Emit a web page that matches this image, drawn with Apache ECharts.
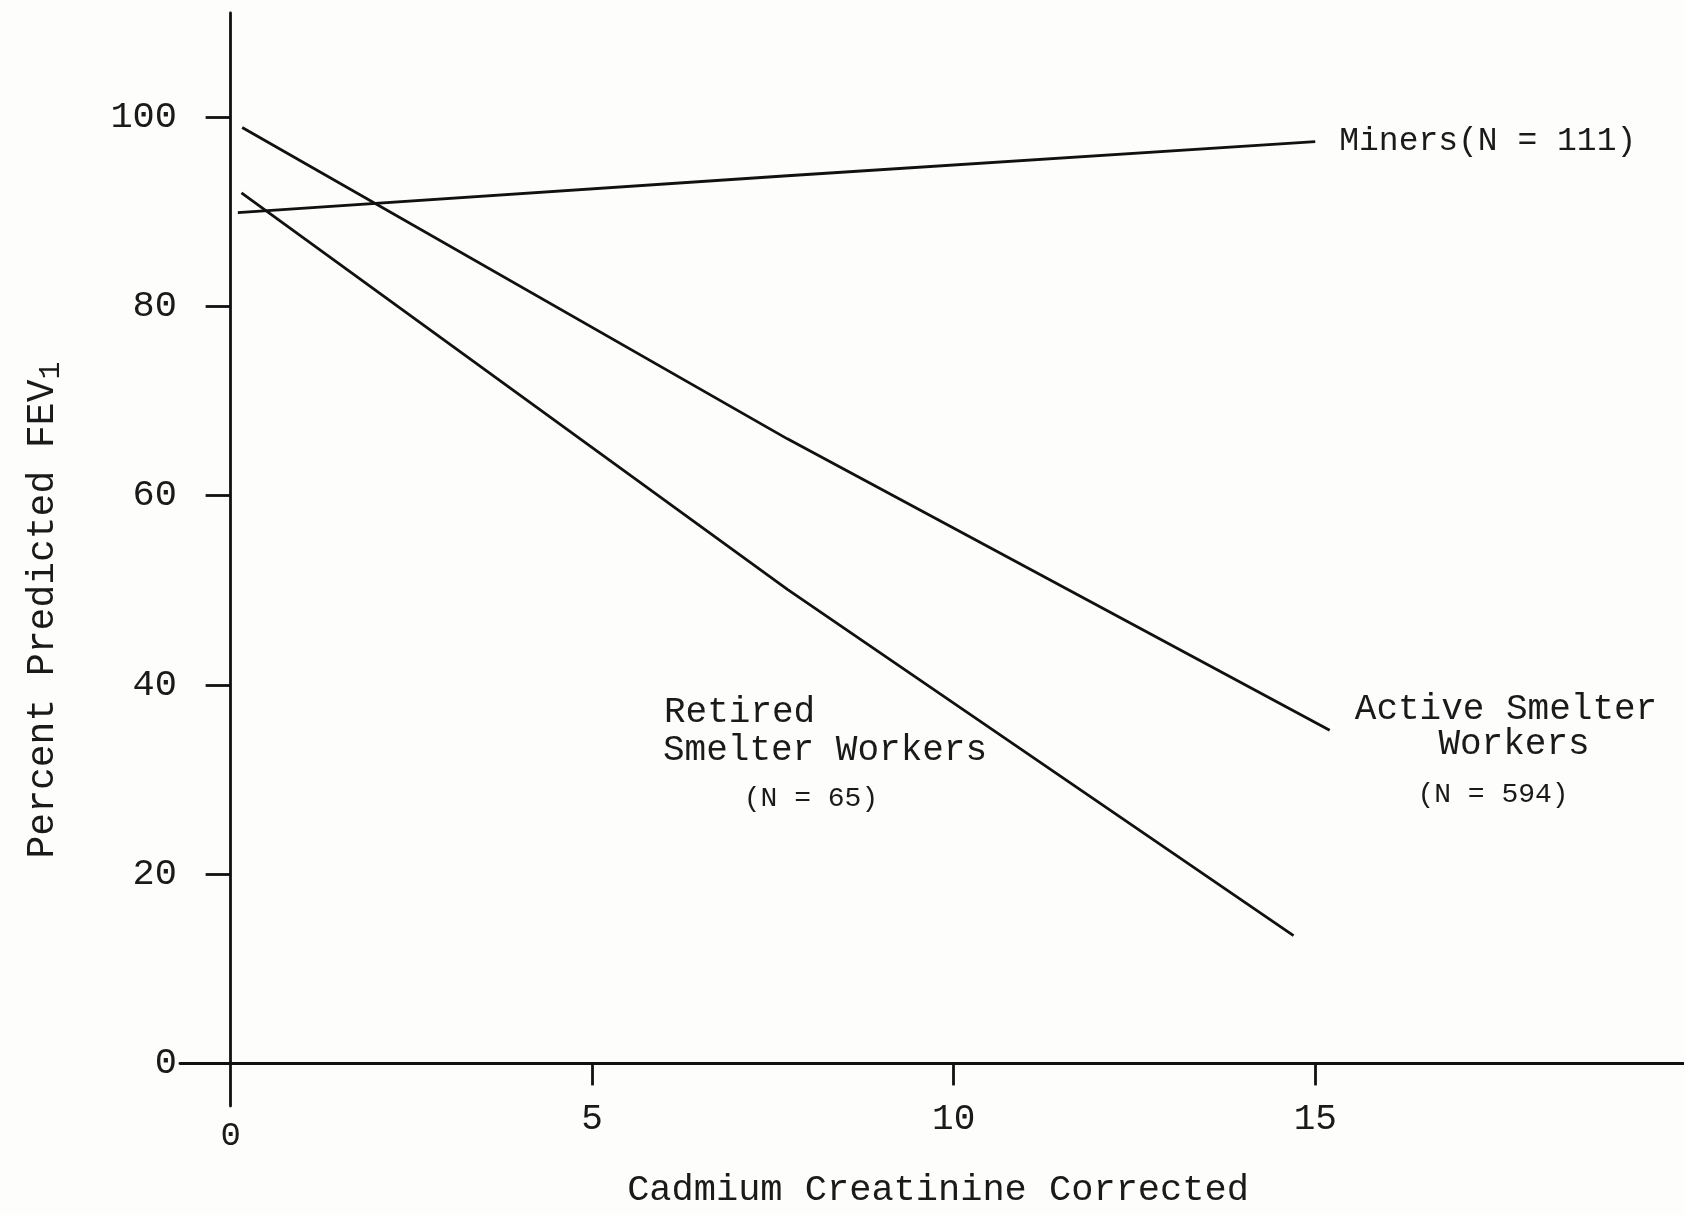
<!DOCTYPE html>
<html>
<head>
<meta charset="utf-8">
<script src="https://cdn.jsdelivr.net/npm/echarts@6/dist/echarts.min.js"></script>
<style>
html,body{margin:0;padding:0;background:#fdfdfc;}
#c{width:1684px;height:1215px;}
</style>
</head>
<body>
<div id="c"></div>
<script>
// Data
const minersX = [0.1, 7.7, 15.0];
const minersY = [89.9, 93.8, 97.4];
const activeX = [0.16, 7.7, 15.2];
const activeY = [98.9, 66.0, 35.2];
const retiredX = [0.15, 7.7, 14.7];
const retiredY = [92.0, 50.1, 13.5];
const xTickValues = [0, 5, 10, 15];
const xTickMarks = [5, 10, 15];
const yTickValues = [0, 20, 40, 60, 80, 100];
const xTitle = 'Cadmium Creatinine Corrected';
const yTitle = 'Percent Predicted FEV';
const minersLabel = 'Miners(N = 111)';

const pairs = (xs, ys) => xs.map((x, i) => [x, ys[i]]);
const FONT = '"Liberation Mono", "DejaVu Sans Mono", monospace';
const INK = '#1a1a1a';

const chart = echarts.init(document.getElementById('c'), null, {renderer: 'canvas'});
const lineStyle = {color: '#111', width: 2.8};

chart.setOption({
  backgroundColor: '#fdfdfc',
  animation: false,
  grid: {left: 180, right: 0, top: 13, bottom: 109},
  xAxis: {
    type: 'value', min: -0.7, max: 20.1,
    axisLine: {onZero: true, lineStyle: {color: '#111', width: 2.8}},
    axisTick: {show: true, length: 22, customValues: xTickMarks, lineStyle: {color: '#111', width: 2.8}},
    axisLabel: {
      customValues: xTickValues, margin: -5, fontFamily: FONT, fontSize: 36, color: INK,
      formatter: v => v === 0 ? '{z|0}' : String(v),
      rich: {z: {fontFamily: FONT, fontSize: 34, color: INK, padding: [18, 0, 0, 0]}}
    },
    splitLine: {show: false}
  },
  yAxis: {
    type: 'value', min: -4.5, max: 111,
    axisLine: {show: true, onZero: true, lineStyle: {color: '#111', width: 2.8}},
    axisTick: {show: true, length: 25, customValues: yTickValues, lineStyle: {color: '#111', width: 2.8}},
    axisLabel: {customValues: yTickValues, margin: 3, fontFamily: FONT, fontSize: 37, color: INK},
    splitLine: {show: false}
  },
  series: [
    {
      name: 'Miners', type: 'line', data: pairs(minersX, minersY), symbol: 'none',
      lineStyle: lineStyle,
      endLabel: {show: true, formatter: minersLabel, distance: 24, fontFamily: FONT, fontSize: 33, color: INK}
    },
    {name: 'Active Smelter Workers', type: 'line', data: pairs(activeX, activeY), symbol: 'none', lineStyle: lineStyle},
    {name: 'Retired Smelter Workers', type: 'line', data: pairs(retiredX, retiredY), symbol: 'none', lineStyle: lineStyle}
  ],
  graphic: [
    {type: 'text', x: 43, y: 610, rotation: Math.PI / 2,
     style: {text: yTitle + '{s|1}', font: '38px ' + FONT, fill: INK, align: 'center', verticalAlign: 'middle',
             rich: {s: {fontFamily: FONT, fontSize: 30, fill: INK, padding: [16, 0, 0, 0]}}}},
    {type: 'text', x: 938, y: 1190,
     style: {text: xTitle, font: '37px ' + FONT, fill: INK, align: 'center', verticalAlign: 'middle'}},
    {type: 'text', x: 664, y: 712, style: {text: 'Retired', font: '36px ' + FONT, fill: INK, align: 'left', verticalAlign: 'middle'}},
    {type: 'text', x: 663, y: 750, style: {text: 'Smelter Workers', font: '36px ' + FONT, fill: INK, align: 'left', verticalAlign: 'middle'}},
    {type: 'text', x: 811, y: 799, style: {text: '(N = 65)', font: '28px ' + FONT, fill: INK, align: 'center', verticalAlign: 'middle'}},
    {type: 'text', x: 1506, y: 709, style: {text: 'Active Smelter', font: '36px ' + FONT, fill: INK, align: 'center', verticalAlign: 'middle'}},
    {type: 'text', x: 1514, y: 744, style: {text: 'Workers', font: '36px ' + FONT, fill: INK, align: 'center', verticalAlign: 'middle'}},
    {type: 'text', x: 1493, y: 795, style: {text: '(N = 594)', font: '28px ' + FONT, fill: INK, align: 'center', verticalAlign: 'middle'}}
  ]
});
</script>
</body>
</html>
